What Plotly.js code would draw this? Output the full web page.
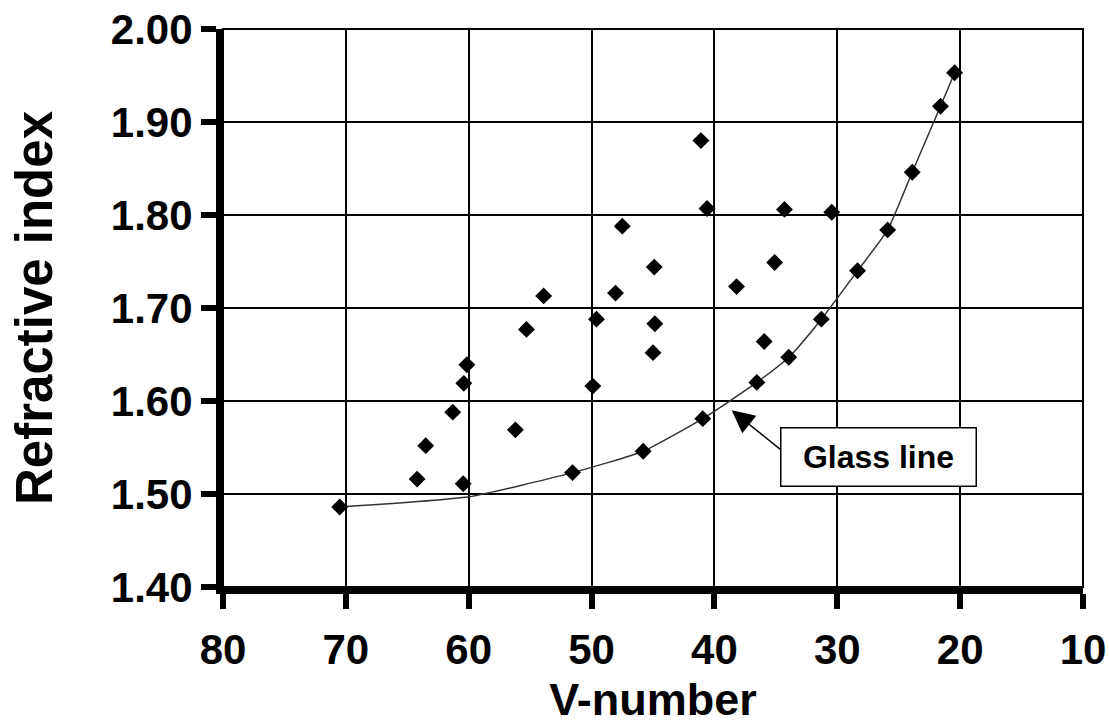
<!DOCTYPE html>
<html>
<head>
<meta charset="utf-8">
<script src="https://cdn.plot.ly/plotly-3.0.1.min.js"></script>
<style>
  html, body { margin: 0; padding: 0; background: #fff; }
  #chart { width: 1109px; height: 725px; }
</style>
</head>
<body>
<div id="chart"></div>
<script>
// Glass data: Abbe V-number and refractive index
var vNumber = [70.5, 64.2, 63.5, 61.3, 60.4, 60.15, 60.45, 56.2, 55.3, 53.9,
               51.55, 49.9, 49.6, 48.05, 47.5, 45.8, 45.0, 44.85, 44.9, 41.1,
               40.6, 40.95, 38.2, 36.55, 35.95, 35.1, 34.3, 33.95, 31.3, 30.45,
               28.35, 25.9, 23.9, 21.6, 20.45];
var refIndex = [1.486, 1.516, 1.552, 1.588, 1.619, 1.639, 1.511, 1.569, 1.677, 1.713,
                1.523, 1.616, 1.688, 1.716, 1.788, 1.546, 1.652, 1.683, 1.744, 1.880,
                1.807, 1.581, 1.723, 1.620, 1.664, 1.749, 1.806, 1.647, 1.688, 1.803,
                1.740, 1.784, 1.846, 1.917, 1.953];

// Glass line
var lineV = [70.5, 60.0, 51.55, 45.8, 40.95, 36.55, 33.95, 31.3, 28.35, 25.9, 23.9, 21.6, 20.45];
var lineN = [1.486, 1.497, 1.523, 1.546, 1.581, 1.620, 1.647, 1.688, 1.740, 1.784, 1.846, 1.917, 1.953];

var xTicks = [80, 70, 60, 50, 40, 30, 20, 10];
var yTicks = [1.40, 1.50, 1.60, 1.70, 1.80, 1.90, 2.00];
var yTickText = ['1.40', '1.50', '1.60', '1.70', '1.80', '1.90', '2.00'];

var labelText = 'Glass line';
var arrowTip = {x: 38.59, y: 1.590};
var labelPos = {x: 26.64, y: 1.540};

var FONT = '"Liberation Sans", Arial, sans-serif';

var traces = [
  {
    x: lineV, y: lineN, type: 'scatter', mode: 'lines',
    line: {color: '#333333', width: 1.5, shape: 'spline', smoothing: 0.5},
    hoverinfo: 'skip', showlegend: false
  },
  {
    x: vNumber, y: refIndex, type: 'scatter', mode: 'markers',
    marker: {symbol: 'diamond', size: 13, color: '#000000'},
    showlegend: false
  }
];

var layout = {
  width: 1109, height: 725,
  margin: {l: 223, r: 26, t: 29, b: 138},
  paper_bgcolor: '#ffffff', plot_bgcolor: '#ffffff',
  showlegend: false,
  font: {family: FONT, color: '#000'},
  xaxis: {
    range: [80, 10], tickvals: xTicks, ticktext: xTicks.map(String),
    showgrid: true, gridcolor: '#000', gridwidth: 2,
    showline: true, linecolor: '#000', linewidth: 7,
    ticks: 'outside', ticklen: 15, tickwidth: 6, tickcolor: '#000',
    tickfont: {family: FONT, size: 42, weight: 700, color: '#000'},
    ticklabelstandoff: 5,
    zeroline: false,
    title: {text: 'V-number', font: {family: FONT, size: 45, weight: 700, color: '#000'}, standoff: 19}
  },
  yaxis: {
    range: [1.40, 2.00], tickvals: yTicks, ticktext: yTickText,
    showgrid: true, gridcolor: '#000', gridwidth: 2,
    showline: true, linecolor: '#000', linewidth: 7,
    ticks: 'outside', ticklen: 15, tickwidth: 6, tickcolor: '#000',
    tickfont: {family: FONT, size: 42, weight: 700, color: '#000'},
    zeroline: false,
    title: {text: 'Refractive index', font: {family: FONT, size: 51, weight: 700, color: '#000'}, standoff: 44}
  },
  shapes: [
    {type: 'rect', xref: 'paper', yref: 'paper', x0: 0, x1: 1, y0: 0, y1: 1,
     line: {color: '#000', width: 2}, layer: 'below'}
  ],
  annotations: [
    {
      x: arrowTip.x, y: arrowTip.y, xref: 'x', yref: 'y',
      text: '', showarrow: true, ax: 51, ay: 41,
      arrowhead: 2, arrowsize: 3, arrowwidth: 1.5, arrowcolor: '#000'
    },
    {
      x: labelPos.x, y: labelPos.y, xref: 'x', yref: 'y',
      text: labelText, showarrow: false,
      font: {family: FONT, size: 32, weight: 700, color: '#000'},
      bgcolor: '#ffffff', bordercolor: '#000', borderwidth: 1.5, borderpad: 0,
      width: 194, height: 57
    }
  ]
};

Plotly.newPlot('chart', traces, layout, {displayModeBar: false, staticPlot: true});
</script>
</body>
</html>
